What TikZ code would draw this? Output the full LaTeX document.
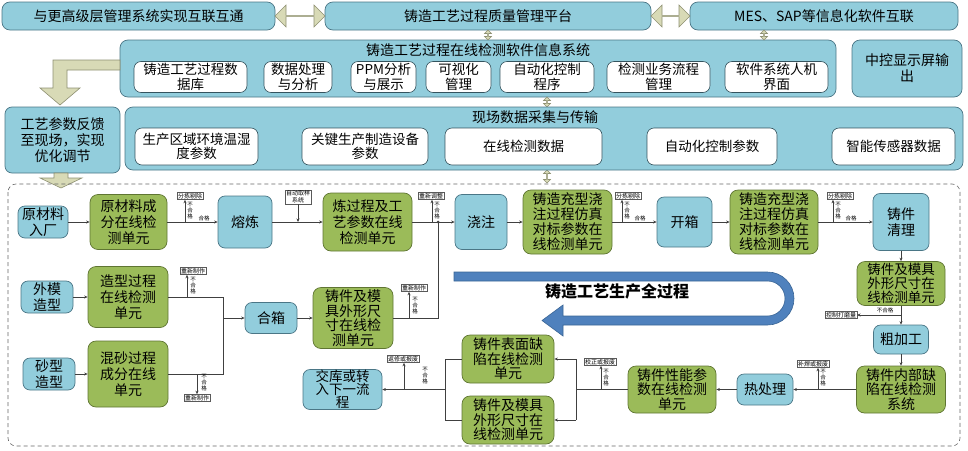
\documentclass[tikz,border=0pt]{standalone}
\usepackage{fontspec}
\setmainfont{Noto Sans CJK SC}
\usetikzlibrary{arrows.meta,shapes.arrows}
\definecolor{bfill}{HTML}{92CDDC}
\definecolor{bdraw}{HTML}{4A7686}
\definecolor{gfill}{HTML}{9BBB59}
\definecolor{gdraw}{HTML}{5F7532}
\definecolor{kfill}{HTML}{D8DAB6}
\definecolor{kdraw}{HTML}{8E9072}
\definecolor{ufill}{HTML}{4F81BD}
\definecolor{udraw}{HTML}{3A6595}
\definecolor{lcol}{HTML}{404040}
\tikzset{
  topbox/.style={draw=bdraw, fill=bfill, rounded corners=8pt, line width=0.7pt, align=center, inner sep=0pt, font=\fontsize{14}{16}\selectfont},
  bluebox/.style={draw=bdraw, fill=bfill, rounded corners=7pt, line width=0.7pt, align=center, inner sep=0pt, font=\fontsize{14}{16}\selectfont},
  greenbox/.style={draw=gdraw, fill=gfill, rounded corners=8pt, line width=0.7pt, align=center, inner sep=0pt, font=\fontsize{14}{15}\selectfont},
  whitebox/.style={draw=bdraw!70!black, fill=white, rounded corners=7pt, line width=0.6pt, align=center, inner sep=0pt, font=\fontsize{13.5}{14.5}\selectfont},
  tag/.style={draw=gray!70!black, fill=white, line width=0.4pt, inner sep=0.8pt, font=\fontsize{6}{7}\selectfont, align=center},
  ng/.style={font=\fontsize{5.5}{6}\selectfont, align=center, inner sep=0pt},
  ln/.style={draw=lcol, line width=0.6pt},
  arr/.style={ln, -{Stealth[length=3.5pt,width=3pt]}},
  kharrow/.style={draw=kdraw, fill=kfill, line width=0.6pt},
  dblarrow/.style={double arrow, draw=kdraw, fill=kfill, line width=0.6pt, inner sep=0pt},
  ttl/.style={inner sep=0pt, font=\fontsize{14}{16}\selectfont}
}
\begin{document}
\begin{tikzpicture}[x=1pt,y=-1pt]
\useasboundingbox (0,0) rectangle (968,450);

% ---- top row ----
\node[topbox, minimum width=273pt, minimum height=28pt] (t1) at (138.5,16) {与更高级层管理系统实现互联互通};
\node[topbox, minimum width=326pt, minimum height=28pt] (t2) at (488,16) {铸造工艺过程质量管理平台};
\node[topbox, minimum width=268pt, minimum height=28pt] (t3) at (824,16) {MES、SAP等信息化软件互联};
\node[dblarrow, minimum height=50pt, minimum width=22pt, double arrow head extend=5pt] (da1) at (300,16) {};
\node[dblarrow, minimum height=39pt, minimum width=22pt, double arrow head extend=5pt] (da2) at (670.5,16) {};

% ---- software system ----
\node[topbox, minimum width=716pt, minimum height=57pt] (sw) at (478,68.5) {};
\node[ttl] (swt) at (478,50) {铸造工艺过程在线检测软件信息系统};
\node[whitebox, minimum width=113pt, minimum height=31pt] (s1) at (190.5,77) {铸造工艺过程数\\据库};
\node[whitebox, minimum width=68pt, minimum height=31pt] (s2) at (298,77) {数据处理\\与分析};
\node[whitebox, minimum width=65pt, minimum height=31pt] (s3) at (383.5,77) {PPM分析\\与展示};
\node[whitebox, minimum width=65pt, minimum height=31pt] (s4) at (458.5,77) {可视化\\管理};
\node[whitebox, minimum width=94pt, minimum height=31pt] (s5) at (547,77) {自动化控制\\程序};
\node[whitebox, minimum width=103pt, minimum height=31pt] (s6) at (658.5,77) {检测业务流程\\管理};
\node[whitebox, minimum width=103pt, minimum height=31pt] (s7) at (776.5,77) {软件系统人机\\界面};
\node[topbox, minimum width=110pt, minimum height=57pt] (ctrl) at (907,68.5) {中控显示屏输\\出};

\node[dblarrow, rotate=90, minimum height=10pt, minimum width=7pt, double arrow head extend=1.5pt] (va1) at (488,35) {};
\node[dblarrow, rotate=90, minimum height=10pt, minimum width=7pt, double arrow head extend=1.5pt] (va2) at (764,35) {};
\node[dblarrow, rotate=90, minimum height=10pt, minimum width=7pt, double arrow head extend=1.5pt] (va3) at (547,102) {};
\node[dblarrow, rotate=90, minimum height=13pt, minimum width=7pt, double arrow head extend=1.5pt] (va4) at (547,176.5) {};

% ---- feedback ----
\draw[kharrow] (120,60) -- (53,60) -- (53,88) -- (40,88) -- (60,105) -- (80,88) -- (67,88) -- (67,70) -- (120,70) -- cycle;
\node[bluebox, font=\fontsize{14}{16}\selectfont, minimum width=115pt, minimum height=66pt] (fb) at (62.5,140) {工艺参数反馈\\至现场，实现\\优化调节};
\draw[kharrow] (54,173) -- (54,178) -- (40,178) -- (61,188) -- (82,178) -- (68,178) -- (68,173) -- cycle;

% ---- field data ----
\node[topbox, minimum width=838pt, minimum height=63pt] (fd) at (544,138.5) {};
\node[ttl] (fdt) at (535,117) {现场数据采集与传输};
\node[whitebox, minimum width=123pt, minimum height=37pt] (f1) at (196.5,146.5) {生产区域环境温湿\\度参数};
\node[whitebox, minimum width=126pt, minimum height=37pt] (f2) at (365,146.5) {关键生产制造设备\\参数};
\node[whitebox, minimum width=157pt, minimum height=37pt] (f3) at (523.5,146.5) {在线检测数据};
\node[whitebox, minimum width=130pt, minimum height=37pt] (f4) at (712,146.5) {自动化控制参数};
\node[whitebox, minimum width=123pt, minimum height=37pt] (f5) at (893.5,146.5) {智能传感器数据};

% ---- dashed frame ----
\draw[gray!80!black, line width=0.6pt, dash pattern=on 4pt off 3pt, rounded corners=8pt] (8,184) rectangle (960,446);

% ---- big U arrow ----
\draw[draw=udraw, fill=ufill, line width=0.6pt] (454,272) -- (767.5,272)
  .. controls (782.14,272) and (794,283.86) .. (794,298.5)
  .. controls (794,313.14) and (782.14,325) .. (767.5,325)
  -- (563,325) -- (563,336) -- (542,320.5) -- (563,305) -- (563,316) -- (767.5,316)
  .. controls (777.17,316) and (785,308.17) .. (785,298.5)
  .. controls (785,288.83) and (777.17,281) .. (767.5,281)
  -- (454,281) -- cycle;
\node[inner sep=0pt, font=\fontsize{16}{18}\selectfont\bfseries] (ut) at (617,291) {铸造工艺生产全过程};

% ---- row 1 ----
\node[bluebox, minimum width=50pt, minimum height=32pt] (raw) at (43,222) {原材料\\入厂};
\node[greenbox, font=\fontsize{14}{16}\selectfont, minimum width=77pt, minimum height=55pt] (g1) at (128.5,222) {原材料成\\分在线检\\测单元};
\node[bluebox, minimum width=54pt, minimum height=52pt] (melt) at (245,222) {熔炼};
\node[greenbox, font=\fontsize{14}{16}\selectfont, minimum width=89pt, minimum height=58pt] (g2) at (367.5,222) {炼过程及工\\艺参数在线\\检测单元};
\node[bluebox, minimum width=52pt, minimum height=55pt] (pour) at (481,222) {浇注};
\node[greenbox, minimum width=89pt, minimum height=64pt] (g3) at (567.5,222) {铸造充型浇\\注过程仿真\\对标参数在\\线检测单元};
\node[bluebox, minimum width=55pt, minimum height=50pt] (open) at (684.5,222) {开箱};
\node[greenbox, minimum width=88pt, minimum height=64pt] (g4) at (774,222) {铸造充型浇\\注过程仿真\\对标参数在\\线检测单元};
\node[bluebox, minimum width=56pt, minimum height=57pt] (clean) at (901,222) {铸件\\清理};

% ---- right column & bottom row ----
\node[greenbox, font=\fontsize{13.5}{14}\selectfont, minimum width=88pt, minimum height=44pt] (g5) at (901,283.5) {铸件及模具\\外形尺寸在\\线检测单元};
\node[bluebox, minimum width=55pt, minimum height=29pt] (rough) at (901,339.5) {粗加工};
\node[greenbox, font=\fontsize{14}{14.5}\selectfont, minimum width=89pt, minimum height=47pt] (g6) at (901,389.5) {铸件内部缺\\陷在线检测\\系统};
\node[bluebox, minimum width=56pt, minimum height=31pt] (heat) at (765,389.5) {热处理};
\node[greenbox, font=\fontsize{14}{14.5}\selectfont, minimum width=88pt, minimum height=47pt] (g7) at (672,389.5) {铸件性能参\\数在线检测\\单元};
\node[greenbox, font=\fontsize{14}{14.5}\selectfont, minimum width=92pt, minimum height=48pt] (g8) at (508,359) {铸件表面缺\\陷在线检测\\单元};
\node[greenbox, font=\fontsize{14}{14.5}\selectfont, minimum width=92pt, minimum height=48pt] (g9) at (508,420) {铸件及模具\\外形尺寸在\\线检测单元};
\node[bluebox, font=\fontsize{13.5}{13}\selectfont, minimum width=79pt, minimum height=40pt] (deliver) at (342.5,389.5) {交库或转\\入下一流\\程};

% ---- left block ----
\node[bluebox, minimum width=52pt, minimum height=32pt] (outer) at (47,297) {外模\\造型};
\node[greenbox, font=\fontsize{14}{16}\selectfont, minimum width=80pt, minimum height=61pt] (g10) at (128,297) {造型过程\\在线检测\\单元};
\node[bluebox, minimum width=52pt, minimum height=32pt] (sand) at (49,374) {砂型\\造型};
\node[greenbox, font=\fontsize{14}{16}\selectfont, minimum width=80pt, minimum height=66pt] (g11) at (128,374) {混砂过程\\成分在线\\单元};
\node[bluebox, minimum width=52pt, minimum height=31pt] (mold) at (271,318) {合箱};
\node[greenbox, font=\fontsize{14}{14.5}\selectfont, minimum width=80pt, minimum height=61pt] (g12) at (353,318) {铸件及模\\具外形尺\\寸在线检\\测单元};

% ---- tags ----
\node[tag] (l1) at (190,196) {分拣剔除};
\node[tag] (l2) at (298,197) {自动取样\\系统};
\node[tag] (l3) at (431,196) {重新调整};
\node[tag] (l4) at (628,196) {分拣剔除};
\node[tag] (l5) at (840,196) {分拣剔除};
\node[tag] (l6) at (193,271) {重新制作};
\node[tag] (l7) at (414,288) {重新制作};
\node[tag] (l8) at (197,398) {重新制作};
\node[tag] (l9) at (841,315) {控制打磨量};
\node[tag] (l10) at (813,364) {补焊或报废};
\node[tag] (l11) at (600,362) {校正或报废};
\node[tag] (l12) at (403,359) {返修或报废};

% ---- coordinates ----
\coordinate (c1) at (185,222);
\coordinate (c2) at (298,222);
\coordinate (c3) at (432,222);
\coordinate (c4) at (622,222);
\coordinate (c5) at (833,222);
\coordinate (c6) at (187,297);
\coordinate (c7) at (409,318);
\coordinate (c8) at (197,374);
\coordinate (c9) at (901,315);
\coordinate (c10) at (818,389.5);
\coordinate (c11) at (601,389.5);
\coordinate (c12) at (404,389.5);
\coordinate (j1) at (223,297);
\coordinate (j2) at (223,374);
\coordinate (j3) at (223,318);
\coordinate (j4) at (438,318);
\coordinate (j5) at (438,222);
\coordinate (j6) at (576,359);
\coordinate (j7) at (576,420);
\coordinate (j8) at (576,389.5);
\coordinate (j9) at (445,359);
\coordinate (j10) at (445,420);
\coordinate (j11) at (445,389.5);

% ---- row 1 connectors ----
\draw[arr] (raw) -- (g1);
\draw[arr] (g1) -- (melt);
\draw[arr] (melt) -- (g2);
\draw[arr] (g2) -- (pour);
\draw[arr] (pour) -- (g3);
\draw[arr] (g3) -- (open);
\draw[arr] (open) -- (g4);
\draw[arr] (g4) -- (clean);
\draw[arr] (c1) -- (c1 |- l1.south);
\draw[arr] (l2.south) -- (c2);
\draw[arr] (c3) -- (c3 |- l3.south);
\draw[arr] (c4) -- (c4 |- l4.south);
\draw[arr] (c5) -- (c5 |- l5.south);
\node[ng] (n1) at (190,211) {不\\合\\格};
\node[ng] (h1) at (204,218.5) {合格};
\node[ng] (n3) at (437,211) {不\\合\\格};
\node[ng] (n4) at (627,211) {不\\合\\格};
\node[ng] (h4) at (640,218.5) {合格};
\node[ng] (n5) at (838,211) {不\\合\\格};
\node[ng] (h5) at (851,218.5) {合格};

% ---- right column ----
\draw[arr] (clean) -- (g5);
\draw[arr] (g5) -- (rough);
\draw[arr] (rough) -- (g6);
\draw[arr] (c9) -- (l9.east);
\node[ng] (n9) at (885,310.5) {不合格};
\draw[arr] (g6) -- (heat);
\draw[arr] (heat) -- (g7);
\draw[arr] (c10) -- (c10 |- l10.south);
\node[ng] (n10) at (823,378) {不\\合\\格};
\draw[ln] (g7.west) -- (j8);
\draw[ln] (j6) -- (j7);
\draw[arr] (j6) -- (g8.east);
\draw[arr] (j7) -- (g9.east);
\draw[arr] (c11) -- (c11 |- l11.south);
\node[ng] (n11) at (606,378) {不\\合\\格};
\draw[ln] (g8.west) -- (j9) -- (j10) -- (g9.west);
\draw[arr] (j11) -- (deliver.east);
\draw[arr] (c12) -- (c12 |- l12.south);
\node[ng] (n12) at (425,376) {不\\合\\格};

% ---- left block ----
\draw[arr] (outer) -- (g10);
\draw[arr] (sand) -- (g11);
\draw[ln] (g10.east) -- (j1) -- (j2) -- (g11.east);
\draw[arr] (j3) -- (mold.west);
\draw[arr] (mold) -- (g12);
\draw[arr] (c6) -- (c6 |- l6.south);
\node[ng] (n6) at (193,286) {不\\合\\格};
\draw[arr] (c8) -- (c8 |- l8.north);
\node[ng] (n8) at (204,383) {不\\合\\格};
\draw[arr] (c7) -- (c7 |- l7.south);
\node[ng] (n7) at (415,306) {不\\合\\格};
\draw[ln] (g12.east) -- (j4) -- (j5);
\fill[lcol] (j5) circle (1.5);
\end{tikzpicture}
\end{document}
